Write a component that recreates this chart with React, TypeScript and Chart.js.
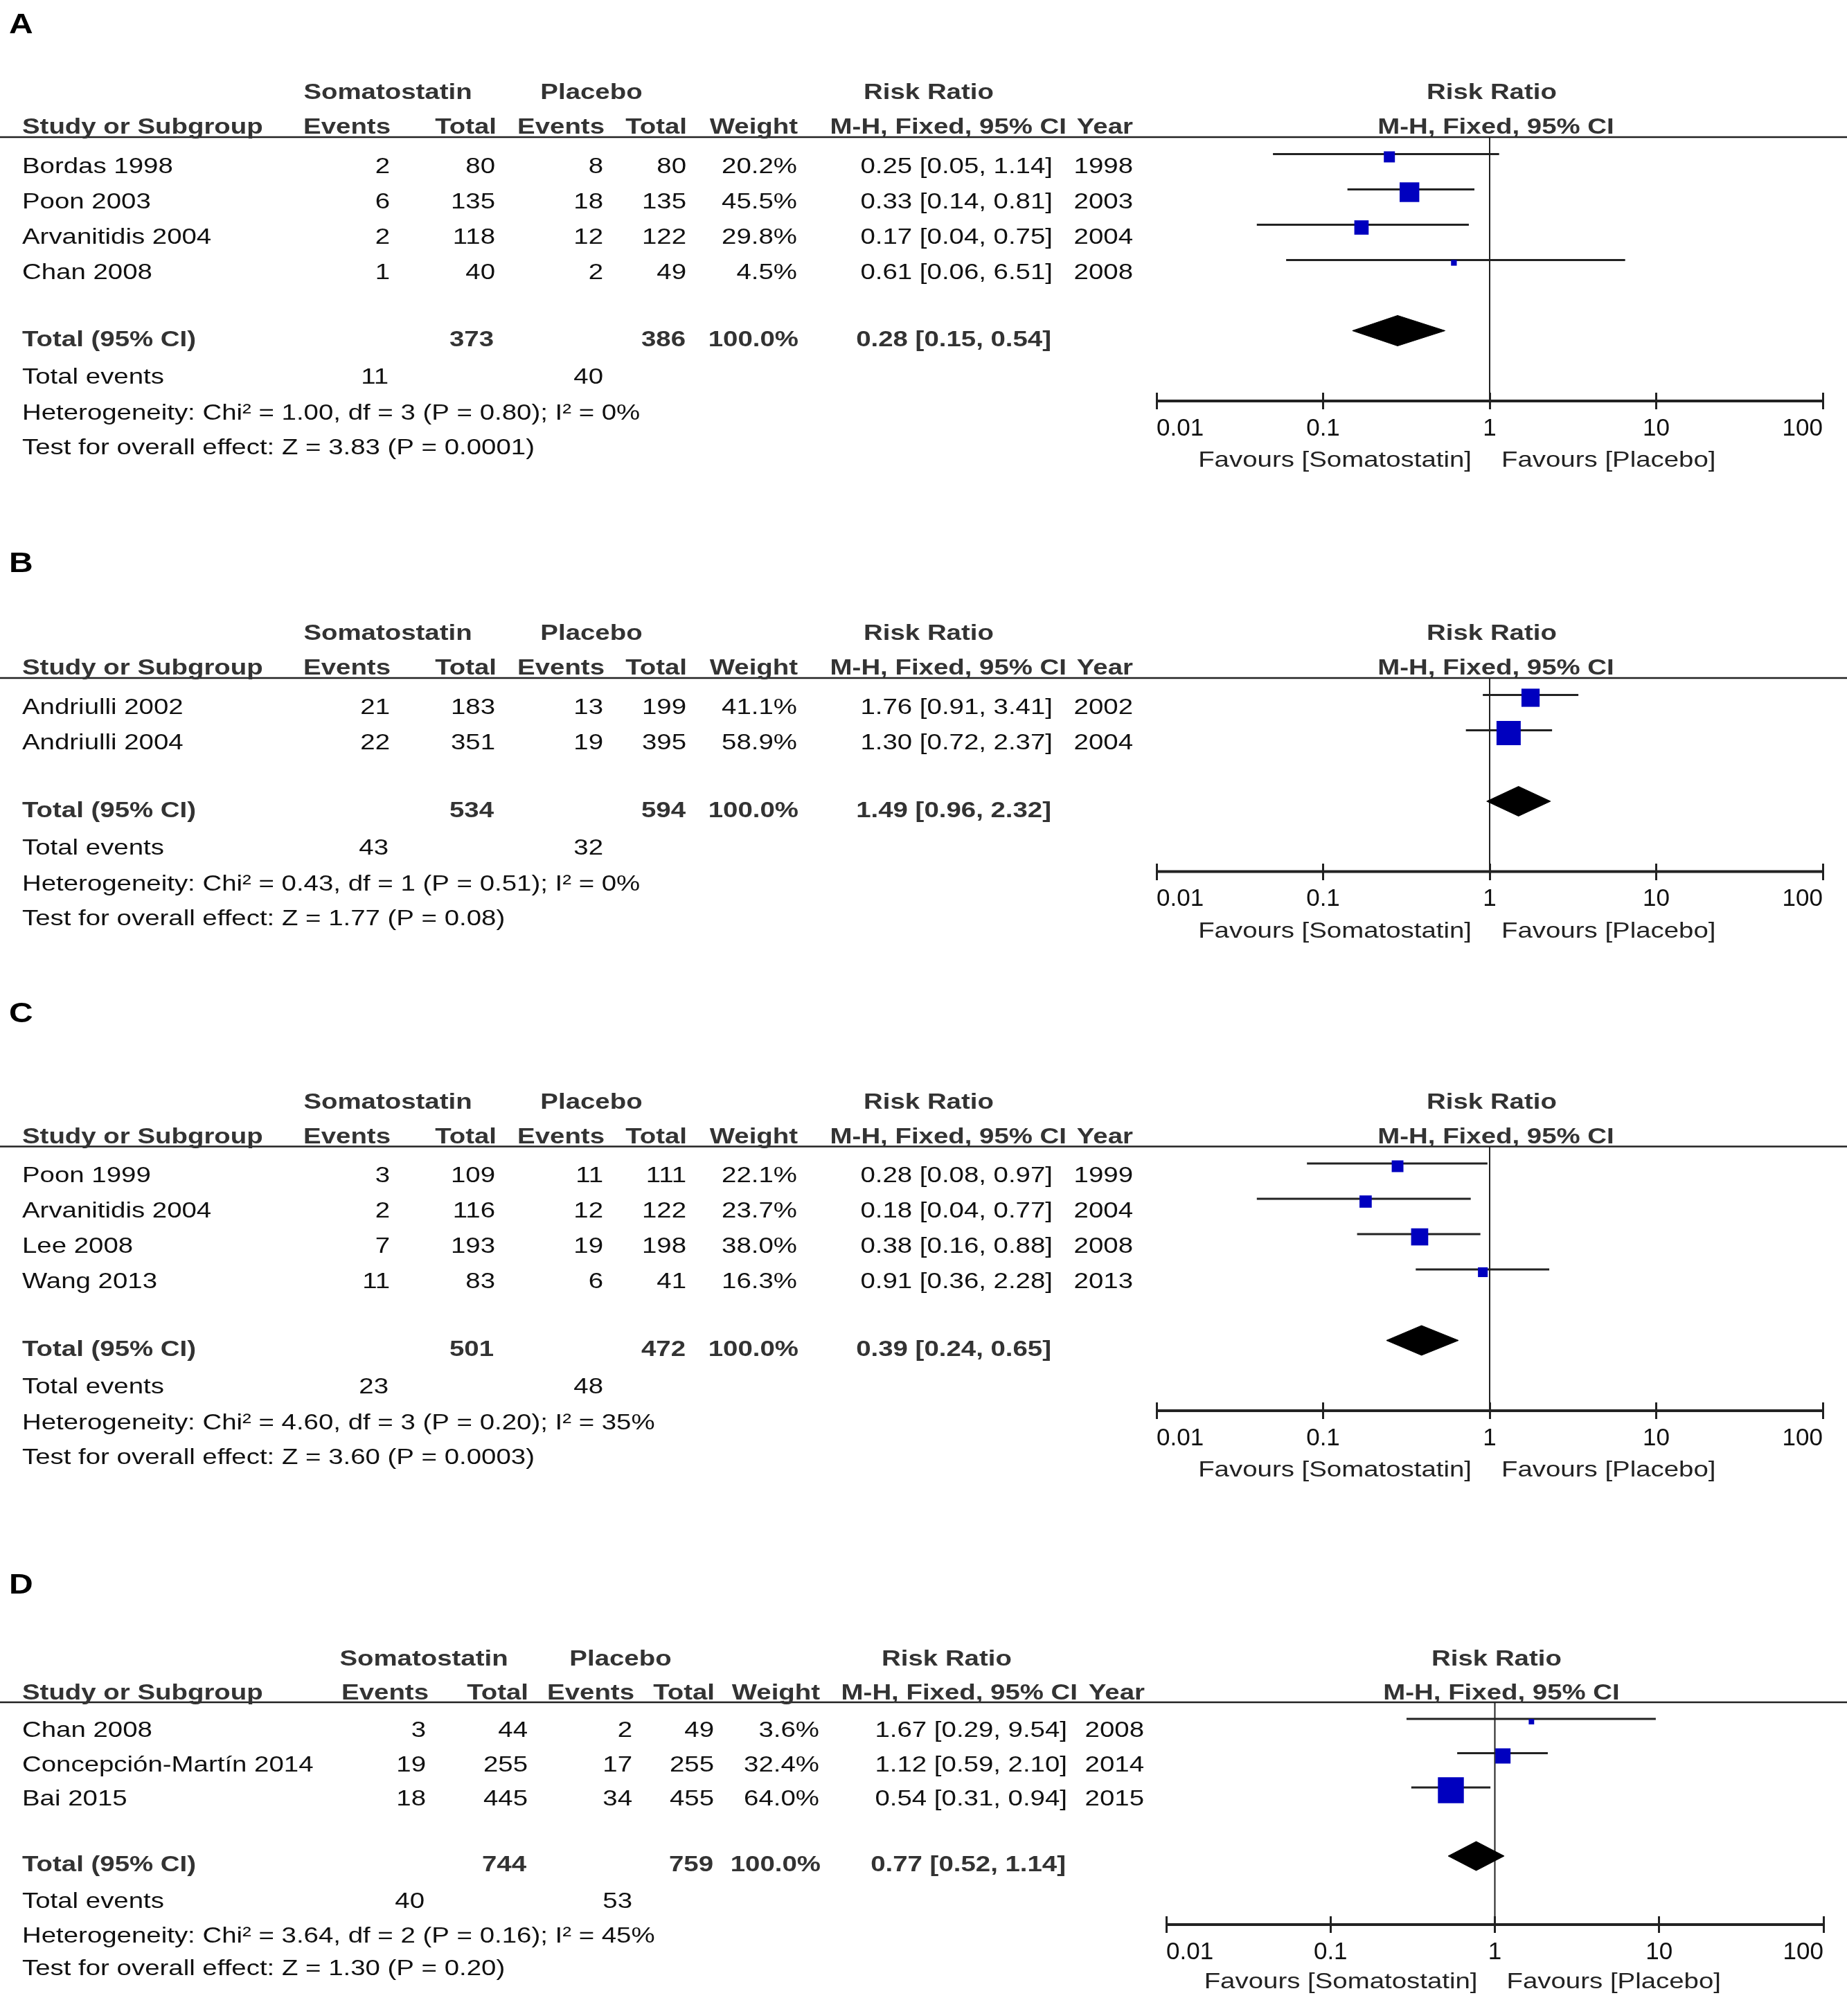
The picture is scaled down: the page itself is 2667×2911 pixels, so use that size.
import React, { useEffect, useRef } from "react";
import { Chart, registerables } from "chart.js";

Chart.register(...registerables);

const PAGE_W = 2667;
const PAGE_H = 2911;
const FONT = '"Liberation Sans", Arial, Helvetica, sans-serif';
const HSCALE = 1.2;
const BLUE = "#0000BF";
const INK = "#222222";

const AXIS_TICKS = [0.01, 0.1, 1, 10, 100];

// ---------------- Panel A ----------------
const A_STUDY = ["Bordas 1998", "Poon 2003", "Arvanitidis 2004", "Chan 2008"];
const A_SOMA_EVENTS = [2, 6, 2, 1];
const A_SOMA_TOTAL = [80, 135, 118, 40];
const A_PLAC_EVENTS = [8, 18, 12, 2];
const A_PLAC_TOTAL = [80, 135, 122, 49];
const A_WEIGHT = [20.2, 45.5, 29.8, 4.5];
const A_RR = [0.25, 0.33, 0.17, 0.61];
const A_LO = [0.05, 0.14, 0.04, 0.06];
const A_HI = [1.14, 0.81, 0.75, 6.51];
const A_YEAR = [1998, 2003, 2004, 2008];
const A_TOTALS = [373, 386];
const A_TOTAL_EVENTS = [11, 40];
const A_POOLED = [0.28, 0.15, 0.54];
const A_HET = "Heterogeneity: Chi² = 1.00, df = 3 (P = 0.80); I² = 0%";
const A_TEST = "Test for overall effect: Z = 3.83 (P = 0.0001)";

// ---------------- Panel B ----------------
const B_STUDY = ["Andriulli 2002", "Andriulli 2004"];
const B_SOMA_EVENTS = [21, 22];
const B_SOMA_TOTAL = [183, 351];
const B_PLAC_EVENTS = [13, 19];
const B_PLAC_TOTAL = [199, 395];
const B_WEIGHT = [41.1, 58.9];
const B_RR = [1.76, 1.3];
const B_LO = [0.91, 0.72];
const B_HI = [3.41, 2.37];
const B_YEAR = [2002, 2004];
const B_TOTALS = [534, 594];
const B_TOTAL_EVENTS = [43, 32];
const B_POOLED = [1.49, 0.96, 2.32];
const B_HET = "Heterogeneity: Chi² = 0.43, df = 1 (P = 0.51); I² = 0%";
const B_TEST = "Test for overall effect: Z = 1.77 (P = 0.08)";

// ---------------- Panel C ----------------
const C_STUDY = ["Poon 1999", "Arvanitidis 2004", "Lee 2008", "Wang 2013"];
const C_SOMA_EVENTS = [3, 2, 7, 11];
const C_SOMA_TOTAL = [109, 116, 193, 83];
const C_PLAC_EVENTS = [11, 12, 19, 6];
const C_PLAC_TOTAL = [111, 122, 198, 41];
const C_WEIGHT = [22.1, 23.7, 38.0, 16.3];
const C_RR = [0.28, 0.18, 0.38, 0.91];
const C_LO = [0.08, 0.04, 0.16, 0.36];
const C_HI = [0.97, 0.77, 0.88, 2.28];
const C_YEAR = [1999, 2004, 2008, 2013];
const C_TOTALS = [501, 472];
const C_TOTAL_EVENTS = [23, 48];
const C_POOLED = [0.39, 0.24, 0.65];
const C_HET = "Heterogeneity: Chi² = 4.60, df = 3 (P = 0.20); I² = 35%";
const C_TEST = "Test for overall effect: Z = 3.60 (P = 0.0003)";

// ---------------- Panel D ----------------
const D_STUDY = ["Chan 2008", "Concepción-Martín 2014", "Bai 2015"];
const D_SOMA_EVENTS = [3, 19, 18];
const D_SOMA_TOTAL = [44, 255, 445];
const D_PLAC_EVENTS = [2, 17, 34];
const D_PLAC_TOTAL = [49, 255, 455];
const D_WEIGHT = [3.6, 32.4, 64.0];
const D_RR = [1.67, 1.12, 0.54];
const D_LO = [0.29, 0.59, 0.31];
const D_HI = [9.54, 2.1, 0.94];
const D_YEAR = [2008, 2014, 2015];
const D_TOTALS = [744, 759];
const D_TOTAL_EVENTS = [40, 53];
const D_POOLED = [0.77, 0.52, 1.14];
const D_HET = "Heterogeneity: Chi² = 3.64, df = 2 (P = 0.16); I² = 45%";
const D_TEST = "Test for overall effect: Z = 1.30 (P = 0.20)";

// ---------------- Layout (positions only) ----------------
const COLS_ABC = {
  name: 32, somaEv: 563, somaTot: 715, placEv: 871, placTot: 991, weight: 1151, rr: 1520, year: 1636,
  somaHead: 560, placHead: 854, evHead: 564, totHead: 717, placEvHead: 873, placTotHead: 992,
  weightHead: 1152, rrHead: 1341, mhHead: 1540, yearHead: 1636,
  plotL: 1670, plotR: 2632, plotRRHead: 2154, plotMHHead: 2160, favL: 26, favR: 17,
};
const COLS_D = {
  name: 32, somaEv: 615, somaTot: 762, placEv: 913, placTot: 1031, weight: 1183, rr: 1541, year: 1652,
  somaHead: 612, placHead: 896, evHead: 619, totHead: 763, placEvHead: 916, placTotHead: 1032,
  weightHead: 1184, rrHead: 1367, mhHead: 1556, yearHead: 1653,
  plotL: 1684, plotR: 2633, plotRRHead: 2161, plotMHHead: 2168, favL: 25, favR: 17,
};

type Panel = {
  letter: string; top: number; height: number; cols: any;
  letterY: number; L: number; h1: number; h2: number; row0: number; step: number;
  totalY: number; eventsY: number; hetY: number; testY: number; axisY: number; favY: number;
  ciOff: number; sqOff: number; diaOff: number; diaH: number;
  study: string[]; somaEv: number[]; somaTot: number[]; placEv: number[]; placTot: number[];
  weight: number[]; rr: number[]; lo: number[]; hi: number[]; year: number[];
  totals: number[]; totalEvents: number[]; pooled: number[]; het: string; test: string;
};

const PANELS: Panel[] = [
  {
    letter: "A", top: 0, height: 720, cols: COLS_ABC,
    letterY: 48, L: 198, h1: 143, h2: 193, row0: 249.5, step: 51,
    totalY: 500, eventsY: 554, hetY: 606, testY: 656, axisY: 579, favY: 674,
    ciOff: -27, sqOff: 4, diaOff: -22.5, diaH: 22,
    study: A_STUDY, somaEv: A_SOMA_EVENTS, somaTot: A_SOMA_TOTAL, placEv: A_PLAC_EVENTS, placTot: A_PLAC_TOTAL,
    weight: A_WEIGHT, rr: A_RR, lo: A_LO, hi: A_HI, year: A_YEAR,
    totals: A_TOTALS, totalEvents: A_TOTAL_EVENTS, pooled: A_POOLED, het: A_HET, test: A_TEST,
  },
  {
    letter: "B", top: 720, height: 680, cols: COLS_ABC,
    letterY: 826, L: 979, h1: 924, h2: 974, row0: 1030.5, step: 51,
    totalY: 1179.5, eventsY: 1233.5, hetY: 1285.5, testY: 1335.5, axisY: 1258.5, favY: 1354,
    ciOff: -27, sqOff: 4, diaOff: -22.5, diaH: 21.5,
    study: B_STUDY, somaEv: B_SOMA_EVENTS, somaTot: B_SOMA_TOTAL, placEv: B_PLAC_EVENTS, placTot: B_PLAC_TOTAL,
    weight: B_WEIGHT, rr: B_RR, lo: B_LO, hi: B_HI, year: B_YEAR,
    totals: B_TOTALS, totalEvents: B_TOTAL_EVENTS, pooled: B_POOLED, het: B_HET, test: B_TEST,
  },
  {
    letter: "C", top: 1400, height: 800, cols: COLS_ABC,
    letterY: 1476, L: 1655.6, h1: 1600.6, h2: 1650.6, row0: 1707, step: 51,
    totalY: 1958, eventsY: 2012, hetY: 2064, testY: 2114, axisY: 2037, favY: 2132,
    ciOff: -27, sqOff: 4, diaOff: -22.5, diaH: 21.5,
    study: C_STUDY, somaEv: C_SOMA_EVENTS, somaTot: C_SOMA_TOTAL, placEv: C_PLAC_EVENTS, placTot: C_PLAC_TOTAL,
    weight: C_WEIGHT, rr: C_RR, lo: C_LO, hi: C_HI, year: C_YEAR,
    totals: C_TOTALS, totalEvents: C_TOTAL_EVENTS, pooled: C_POOLED, het: C_HET, test: C_TEST,
  },
  {
    letter: "D", top: 2200, height: 711, cols: COLS_D,
    letterY: 2301, L: 2458, h1: 2405, h2: 2453.5, row0: 2508, step: 49.5,
    totalY: 2702, eventsY: 2755, hetY: 2805, testY: 2852, axisY: 2779, favY: 2871,
    ciOff: -26, sqOff: 4, diaOff: -22, diaH: 21,
    study: D_STUDY, somaEv: D_SOMA_EVENTS, somaTot: D_SOMA_TOTAL, placEv: D_PLAC_EVENTS, placTot: D_PLAC_TOTAL,
    weight: D_WEIGHT, rr: D_RR, lo: D_LO, hi: D_HI, year: D_YEAR,
    totals: D_TOTALS, totalEvents: D_TOTAL_EVENTS, pooled: D_POOLED, het: D_HET, test: D_TEST,
  },
];

const squareSide = (w: number) => 6.1 + 0.49 * w;
const fmtCI = (rr: number, lo: number, hi: number) =>
  `${rr.toFixed(2)} [${lo.toFixed(2)}, ${hi.toFixed(2)}]`;

function drawText(
  ctx: CanvasRenderingContext2D, s: string, x: number, y: number,
  align: "left" | "right" | "center", bold: boolean, size = 32, color?: string
) {
  ctx.save();
  ctx.font = `${bold ? "bold " : ""}${size}px ${FONT}`;
  ctx.fillStyle = color ?? (bold ? "#333333" : "#111111");
  const w = ctx.measureText(s).width * HSCALE;
  const x0 = align === "left" ? x : align === "right" ? x - w : x - w / 2;
  ctx.translate(x0, y);
  ctx.scale(HSCALE, 1);
  ctx.textAlign = "left";
  ctx.textBaseline = "alphabetic";
  ctx.fillText(s, 0, 0);
  ctx.restore();
}

function makeTextPlugin(p: Panel) {
  return {
    id: "forestText" + p.letter,
    afterDraw(chart: any) {
      const ctx: CanvasRenderingContext2D = chart.ctx;
      const c = p.cols;
      const Y = (v: number) => v - p.top;

      // header rule
      ctx.save();
      ctx.strokeStyle = INK;
      ctx.lineWidth = 2.5;
      ctx.beginPath();
      ctx.moveTo(0, Y(p.L));
      ctx.lineTo(PAGE_W, Y(p.L));
      ctx.stroke();
      ctx.restore();

      drawText(ctx, p.letter, 13, Y(p.letterY), "left", true, 40, "#000000");

      // header line 1
      drawText(ctx, "Somatostatin", c.somaHead, Y(p.h1), "center", true);
      drawText(ctx, "Placebo", c.placHead, Y(p.h1), "center", true);
      drawText(ctx, "Risk Ratio", c.rrHead, Y(p.h1), "center", true);
      drawText(ctx, "Risk Ratio", c.plotRRHead, Y(p.h1), "center", true);
      // header line 2
      drawText(ctx, "Study or Subgroup", c.name, Y(p.h2), "left", true);
      drawText(ctx, "Events", c.evHead, Y(p.h2), "right", true);
      drawText(ctx, "Total", c.totHead, Y(p.h2), "right", true);
      drawText(ctx, "Events", c.placEvHead, Y(p.h2), "right", true);
      drawText(ctx, "Total", c.placTotHead, Y(p.h2), "right", true);
      drawText(ctx, "Weight", c.weightHead, Y(p.h2), "right", true);
      drawText(ctx, "M-H, Fixed, 95% CI", c.mhHead, Y(p.h2), "right", true);
      drawText(ctx, "Year", c.yearHead, Y(p.h2), "right", true);
      drawText(ctx, "M-H, Fixed, 95% CI", c.plotMHHead, Y(p.h2), "center", true);

      // study rows
      p.study.forEach((name, i) => {
        const y = Y(p.row0 + i * p.step);
        drawText(ctx, name, c.name, y, "left", false);
        drawText(ctx, String(p.somaEv[i]), c.somaEv, y, "right", false);
        drawText(ctx, String(p.somaTot[i]), c.somaTot, y, "right", false);
        drawText(ctx, String(p.placEv[i]), c.placEv, y, "right", false);
        drawText(ctx, String(p.placTot[i]), c.placTot, y, "right", false);
        drawText(ctx, `${p.weight[i].toFixed(1)}%`, c.weight, y, "right", false);
        drawText(ctx, fmtCI(p.rr[i], p.lo[i], p.hi[i]), c.rr, y, "right", false);
        drawText(ctx, String(p.year[i]), c.year, y, "right", false);
      });

      // total row
      const ty = Y(p.totalY);
      drawText(ctx, "Total (95% CI)", c.name, ty, "left", true);
      drawText(ctx, String(p.totals[0]), c.somaTot - 2, ty, "right", true);
      drawText(ctx, String(p.totals[1]), c.placTot - 1, ty, "right", true);
      drawText(ctx, "100.0%", c.weight + 2, ty, "right", true);
      drawText(ctx, fmtCI(p.pooled[0], p.pooled[1], p.pooled[2]), c.rr - 2, ty, "right", true);

      const ey = Y(p.eventsY);
      drawText(ctx, "Total events", c.name, ey, "left", false);
      drawText(ctx, String(p.totalEvents[0]), c.somaEv - 2, ey, "right", false);
      drawText(ctx, String(p.totalEvents[1]), c.placEv, ey, "right", false);

      drawText(ctx, p.het, c.name, Y(p.hetY), "left", false);
      drawText(ctx, p.test, c.name, Y(p.testY), "left", false);

      const x1 = chart.scales.x.getPixelForValue(1);
      drawText(ctx, "Favours [Somatostatin]", x1 - c.favL, Y(p.favY), "right", false, 32, "#222222");
      drawText(ctx, "Favours [Placebo]", x1 + c.favR, Y(p.favY), "left", false, 32, "#222222");
    },
  };
}

function buildConfig(p: Panel): any {
  const c = p.cols;
  const ciY = (i: number) => p.row0 + i * p.step + p.ciOff - p.top;
  const axisY = p.axisY - p.top;
  const datasets: any[] = [];

  // study squares (weight-sized)
  datasets.push({
    data: p.rr.map((v, i) => ({ x: v, y: ciY(i) + p.sqOff })),
    showLine: false,
    pointStyle: "rect",
    pointRadius: p.weight.map((w) => squareSide(w) / Math.SQRT2),
    pointHoverRadius: p.weight.map((w) => squareSide(w) / Math.SQRT2),
    backgroundColor: BLUE,
    pointBackgroundColor: BLUE,
    borderWidth: 0,
    pointBorderWidth: 0,
    order: 0,
    clip: false,
  });

  // pooled diamond
  const dy = p.totalY + p.diaOff - p.top;
  const [prr, plo, phi] = p.pooled;
  datasets.push({
    data: [
      { x: plo, y: dy },
      { x: prr, y: dy - p.diaH },
      { x: phi, y: dy },
      { x: prr, y: dy + p.diaH },
      { x: plo, y: dy },
    ],
    showLine: true,
    fill: "shape",
    backgroundColor: "#000000",
    borderColor: "#000000",
    borderWidth: 1,
    pointRadius: 0,
    tension: 0,
    order: 1,
    clip: false,
  });

  // confidence interval lines
  p.lo.forEach((lo, i) => {
    datasets.push({
      data: [
        { x: lo, y: ciY(i) },
        { x: p.hi[i], y: ciY(i) },
      ],
      showLine: true,
      borderColor: INK,
      borderWidth: 3,
      pointRadius: 0,
      order: 2,
      clip: false,
    });
  });

  // line of no effect
  datasets.push({
    data: [
      { x: 1, y: p.L - p.top },
      { x: 1, y: axisY },
    ],
    showLine: true,
    borderColor: INK,
    borderWidth: 2,
    pointRadius: 0,
    order: 3,
    clip: false,
  });

  // axis baseline
  datasets.push({
    data: [
      { x: AXIS_TICKS[0], y: axisY },
      { x: AXIS_TICKS[AXIS_TICKS.length - 1], y: axisY },
    ],
    showLine: true,
    borderColor: INK,
    borderWidth: 4,
    pointRadius: 0,
    order: 4,
    clip: false,
  });

  return {
    type: "scatter",
    data: { datasets },
    options: {
      responsive: false,
      maintainAspectRatio: false,
      devicePixelRatio: 1,
      animation: false,
      events: [],
      layout: {
        autoPadding: false,
        padding: { left: c.plotL, right: PAGE_W - c.plotR, top: 0, bottom: 0 },
      },
      plugins: { legend: { display: false }, tooltip: { enabled: false }, title: { display: false } },
      scales: {
        x: {
          type: "logarithmic",
          min: AXIS_TICKS[0],
          max: AXIS_TICKS[AXIS_TICKS.length - 1],
          position: { y: axisY - 12 },
          afterBuildTicks: (scale: any) => {
            scale.ticks = AXIS_TICKS.map((v) => ({ value: v }));
          },
          border: { display: false },
          grid: {
            display: true,
            drawOnChartArea: false,
            drawTicks: true,
            tickLength: 24,
            lineWidth: 3,
            tickWidth: 3,
            color: INK,
            tickColor: INK,
          },
          ticks: {
            align: "inner",
            autoSkip: false,
            maxRotation: 0,
            minRotation: 0,
            padding: 7,
            color: "#111111",
            font: { family: FONT, size: 35, lineHeight: 1.2 },
            callback: (v: any) => String(v),
          },
          title: { display: false },
        },
        y: {
          type: "linear",
          min: 0,
          max: p.height,
          reverse: true,
          display: false,
        },
      },
    },
    plugins: [makeTextPlugin(p)],
  };
}

function ForestPanel({ p }: { p: Panel }) {
  const ref = useRef<HTMLCanvasElement | null>(null);
  useEffect(() => {
    if (!ref.current) return;
    const chart = new Chart(ref.current, buildConfig(p));
    return () => chart.destroy();
  }, [p]);
  return (
    <canvas
      ref={ref}
      width={PAGE_W}
      height={p.height}
      style={{ position: "absolute", left: 0, top: p.top, width: PAGE_W, height: p.height, display: "block" }}
    />
  );
}

export default function App() {
  return (
    <div
      style={{
        position: "absolute",
        left: 0,
        top: 0,
        width: PAGE_W,
        height: PAGE_H,
        background: "#ffffff",
        overflow: "hidden",
      }}
    >
      {PANELS.map((p) => (
        <ForestPanel key={p.letter} p={p} />
      ))}
    </div>
  );
}
